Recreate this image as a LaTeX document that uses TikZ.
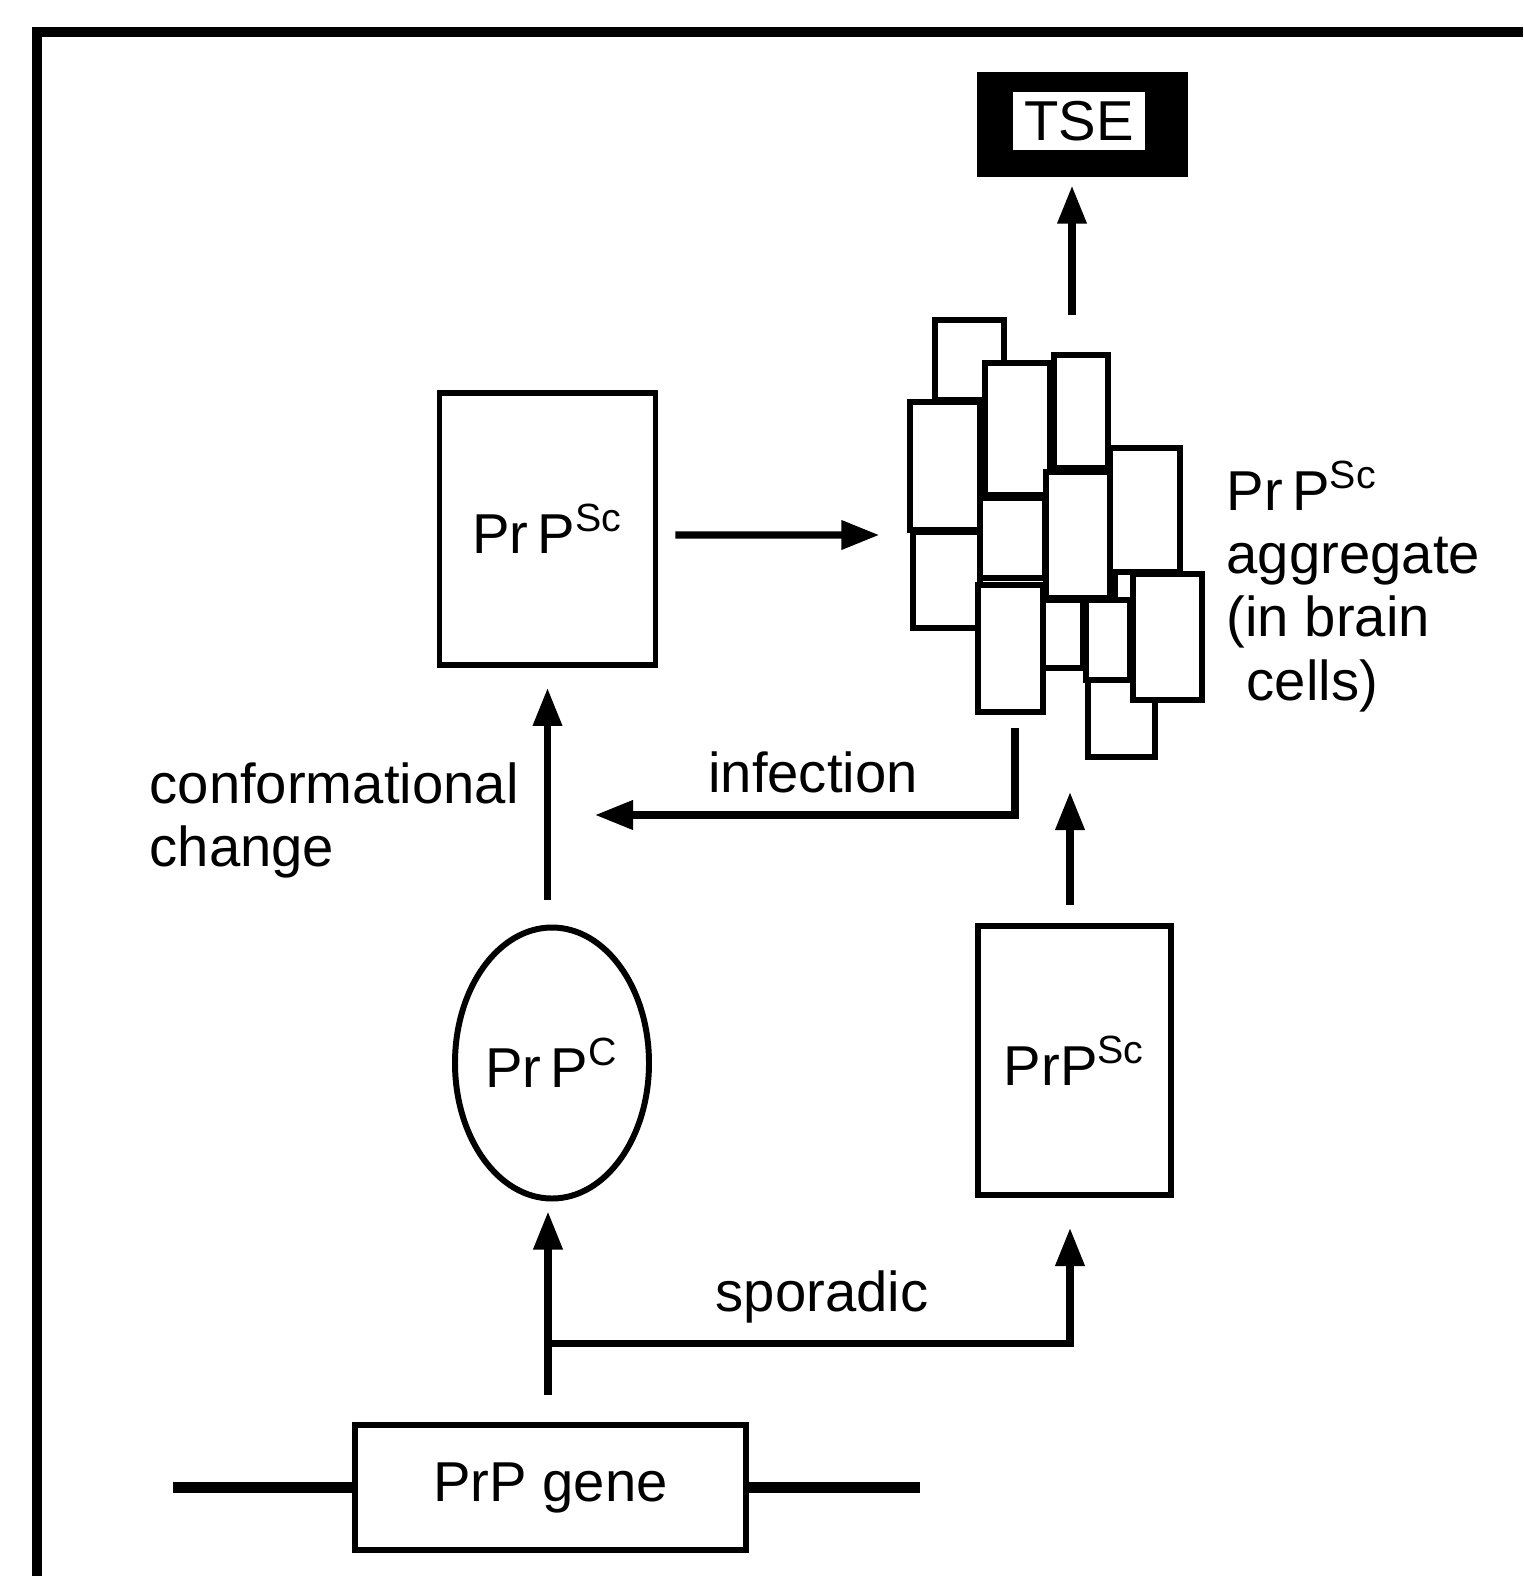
\documentclass[tikz,border=0pt]{standalone}
\usepackage{fontspec}
\setmainfont{Liberation Sans}
\usetikzlibrary{arrows.meta,positioning,shapes.geometric,fit}

\begin{document}
\begin{tikzpicture}[
    box/.style={draw, line width=1.7pt, minimum width=2.16cm, minimum height=2.72cm, font=\fontsize{16}{19}\selectfont},
    cell/.style={draw, fill=white, line width=1.7pt},
    lbl/.style={font=\fontsize{16}{18}\selectfont, inner sep=0pt},
    arr/.style={-{Triangle[length=0.38cm, width=0.28cm]}, line width=2pt},
    gline/.style={line width=3.4pt}
  ]
  \useasboundingbox (0,0) rectangle (15.23,-15.76);
  % frame
  \draw[line width=3pt] (0.37,-15.76) -- (0.37,-0.32) -- (15.23,-0.32);

  % aggregate of cells
  \foreach \xa/\ya/\xb/\yb in {9.35/3.20/10.04/4.00, 10.54/3.55/11.08/4.68, 11.15/5.50/11.55/6.20,
      9.85/3.63/10.50/4.95, 9.10/4.02/9.80/5.30, 11.10/4.48/11.80/5.72, 9.80/4.98/10.45/5.78,
      10.46/4.72/11.10/5.98, 9.13/5.32/9.80/6.28, 10.41/6.00/10.83/6.68, 10.86/6.00/11.30/6.80,
      9.78/5.85/10.43/7.12, 10.88/6.80/11.55/7.57, 11.33/5.74/12.02/7.00}
    \draw[cell] (\xa,-\ya) rectangle (\xb,-\yb);
  \node[fit={(9.07,-3.17) (12.05,-7.60)}, inner sep=0pt] (agg) {};
  \node[lbl, anchor=north west, align=left] (agglbl) at (12.26,-4.60)
    {Pr\,P\textsuperscript{Sc}\\aggregate\\(in brain\\\hspace*{0.2cm}cells)};

  % TSE
  \node[fill=black, minimum width=2.11cm, minimum height=1.05cm] (tse) at (10.825,-1.245) {};
  \node[fill=white, minimum width=1.32cm, minimum height=0.58cm, inner sep=0pt,
    font=\fontsize{16}{19}\selectfont] (tsetext) at (10.79,-1.21) {TSE};
  \coordinate (aggtop) at (10.72,-3.15);
  \draw[arr] (aggtop) -- ([yshift=-0.08cm]tse.south -| aggtop);

  % PrPSc boxes
  \node[box] (boxa) at (5.475,-5.29) {Pr\,P\textsuperscript{Sc}};
  \node[box, minimum width=1.93cm, minimum height=2.69cm] (boxb) at (10.745,-10.605) {PrP\textsuperscript{Sc}};
  \draw[arr] ([xshift=0.17cm, yshift=-0.06cm]boxa.east) -- ([xshift=-0.27cm]agg.west |- 0,-5.35);

  % PrPC
  \node[ellipse, draw, line width=1.7pt, minimum width=1.94cm, minimum height=2.71cm, inner sep=0pt,
    font=\fontsize{16}{19}\selectfont] (prpc) at (5.52,-10.63) {Pr\,P\textsuperscript{C}};
  \draw[arr] ([yshift=0.25cm]prpc.north -| boxa.south) -- ([yshift=-0.2cm]boxa.south);
  \node[lbl, anchor=north west, align=left] (conflbl) at (1.49,-7.62) {conformational\\change};

  % infection
  \coordinate (infstart) at (10.15,-7.28);
  \coordinate (inftip) at (5.95,-8.15);
  \draw[arr] (infstart) |- (inftip);
  \node[lbl] (inflbl) at (8.13,-7.72) {infection};

  % sporadic
  \coordinate (aggbot) at (10.70,-7.92);
  \draw[arr] ([yshift=0.18cm]boxb.north -| aggbot) -- (aggbot);
  \node[box, minimum width=3.91cm, minimum height=1.25cm] (gene) at (5.505,-14.875) {PrP gene};
  \draw[gline] (gene.west) -- ++(-1.79,0);
  \draw[gline] (gene.east) -- ++(1.71,0);
  \coordinate (branch) at (5.48,-13.43);
  \draw[arr] ([yshift=0.27cm]gene.north -| branch) -- ([yshift=-0.1cm]prpc.south -| branch);
  \draw[arr] (branch) -| ([yshift=-0.3cm]boxb.south -| aggbot);
  \node[lbl] (sporlbl) at (8.22,-12.97) {sporadic};
\end{tikzpicture}
\end{document}
